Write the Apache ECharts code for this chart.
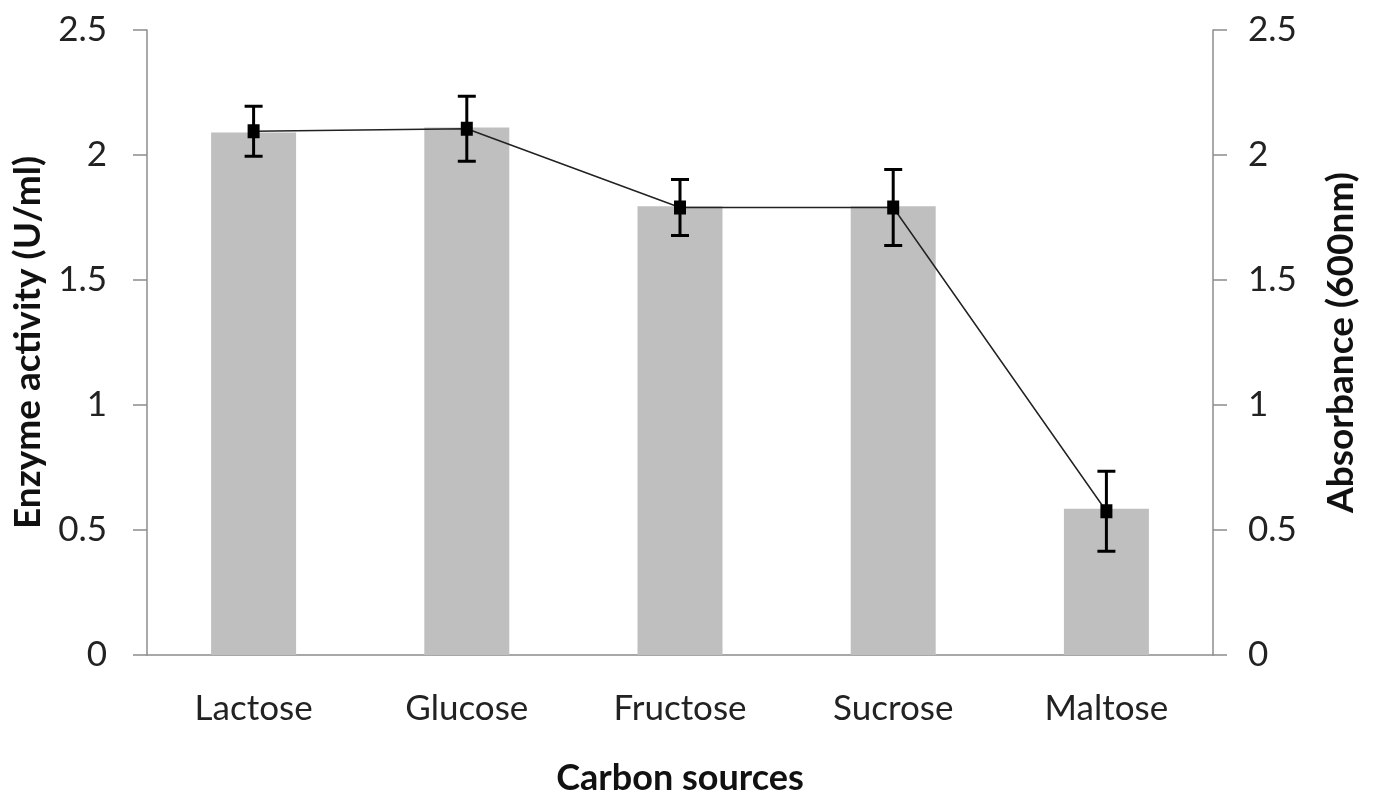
<!DOCTYPE html>
<html>
<head>
<meta charset="utf-8">
<script src="https://cdn.jsdelivr.net/npm/echarts@6/dist/echarts.min.js"></script>
<style>
  html, body { margin: 0; padding: 0; background: #fff; }
  #chart { width: 1377px; height: 794px; }
</style>
</head>
<body>
<div id="chart"></div>
<script>
  // data
  var categories = ['Lactose', 'Glucose', 'Fructose', 'Sucrose', 'Maltose'];
  var enzymeActivity = [2.09, 2.11, 1.795, 1.795, 0.585];
  var absorbance = [2.095, 2.105, 1.79, 1.79, 0.575];
  var absorbanceErr = [0.1, 0.13, 0.112, 0.152, 0.16];
  var yTicks = [0, 0.5, 1, 1.5, 2, 2.5];

  var font = 'Lato, "Open Sans", sans-serif';
  var axisGray = '#8c8c8c';

  var errData = absorbance.map(function (v, i) {
    return [i, v - absorbanceErr[i], v + absorbanceErr[i]];
  });

  function yAxisCommon(pos, gap, name, margin) {
    return {
      type: 'value',
      position: pos,
      min: yTicks[0],
      max: yTicks[yTicks.length - 1],
      interval: 0.5,
      name: name,
      nameLocation: 'middle',
      nameRotate: 90,
      nameGap: gap,
      nameTextStyle: { fontFamily: font, fontSize: 37, fontWeight: 'bold', color: '#111' },
      axisLine: { show: true, lineStyle: { color: axisGray, width: 1.5 } },
      axisTick: { show: true, inside: false, length: 14, lineStyle: { color: axisGray, width: 1.5 } },
      axisLabel: { fontFamily: font, fontSize: 35, color: '#222', margin: margin },
      splitLine: { show: false }
    };
  }

  var chart = echarts.init(document.getElementById('chart'));
  chart.setOption({
    animation: false,
    grid: { left: 147, right: 164, top: 30, bottom: 139, outerBoundsMode: 'none' },
    xAxis: {
      type: 'category',
      data: categories,
      name: 'Carbon sources',
      nameLocation: 'middle',
      nameGap: 105,
      nameTextStyle: { fontFamily: font, fontSize: 36, fontWeight: 'bold', color: '#111' },
      axisLine: { lineStyle: { color: axisGray, width: 1.5 } },
      axisTick: { length: 12, lineStyle: { color: axisGray, width: 1.5 } },
      axisLabel: { fontFamily: font, fontSize: 35, color: '#222', margin: 36 }
    },
    yAxis: [
      yAxisCommon('left', 100, 'Enzyme activity (U/ml)', 40),
      yAxisCommon('right', 110, 'Absorbance (600nm)', 35)
    ],
    series: [
      {
        name: 'Enzyme activity',
        type: 'bar',
        data: enzymeActivity,
        barWidth: 85,
        itemStyle: { color: '#bfbfbf' },
        z: 1
      },
      {
        name: 'Absorbance',
        type: 'line',
        yAxisIndex: 1,
        data: absorbance,
        symbol: 'rect',
        symbolSize: [12, 14],
        itemStyle: { color: '#000' },
        lineStyle: { color: '#222', width: 1.5 },
        z: 5
      },
      {
        name: 'Error',
        type: 'custom',
        yAxisIndex: 1,
        data: errData,
        z: 4,
        renderItem: function (params, api) {
          var lo = api.coord([api.value(0), api.value(1)]);
          var hi = api.coord([api.value(0), api.value(2)]);
          var half = 9;
          var st = { stroke: '#000', lineWidth: 3 };
          return {
            type: 'group',
            children: [
              { type: 'line', shape: { x1: hi[0], y1: hi[1], x2: lo[0], y2: lo[1] }, style: st },
              { type: 'line', shape: { x1: hi[0] - half, y1: hi[1], x2: hi[0] + half, y2: hi[1] }, style: st },
              { type: 'line', shape: { x1: lo[0] - half, y1: lo[1], x2: lo[0] + half, y2: lo[1] }, style: st }
            ]
          };
        }
      }
    ]
  });
</script>
</body>
</html>
